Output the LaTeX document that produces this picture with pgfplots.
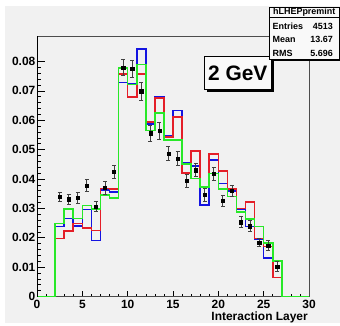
\documentclass[border=0pt]{standalone}
\usepackage{fontspec}
\setmainfont{Liberation Sans}
\usepackage{pgfplots}
\usepackage{pgfplotstable}
\pgfplotsset{compat=1.18}
\definecolor{canvas}{RGB}{241,241,241}
\definecolor{hblue}{RGB}{20,20,225}
\definecolor{hred}{RGB}{228,30,40}
\definecolor{hgreen}{RGB}{40,232,40}

\pgfplotstableread{
x b r g
0 0 0 0
1 0 0 0
2 0.0238 0.0197 0.0249
3 0.0265 0.0222 0.0297
4 0.0240 0.0248 0.0266
5 0.0296 0.0233 0.0310
6 0.0191 0.0225 0.0298
7 0.0362 0.0367 0.0346
8 0.0356 0.0366 0.0335
9 0.0728 0.0758 0.0778
10 0.0723 0.0679 0.0722
11 0.0842 0.0757 0.0789
12 0.0588 0.0593 0.0565
13 0.0680 0.0675 0.0624
14 0.0548 0.0542 0.0533
15 0.0633 0.0610 0.0533
16 0.0456 0.0421 0.0451
17 0.0445 0.0496 0.0402
18 0.0312 0.0373 0.0373
19 0.0464 0.0485 0.0419
20 0.0385 0.0428 0.0366
21 0.0360 0.0366 0.0340
22 0.0298 0.0300 0.0288
23 0.0238 0.0322 0.0264
24 0.0194 0.0198 0.0238
25 0.0131 0.0170 0.0183
26 0.0064 0.0065 0.0120
27 0 0 0
28 0 0 0
29 0 0 0
30 0 0 0
}\hist

\pgfplotstableread{
x y e
2.5 0.0339 0.0015
3.5 0.0331 0.0018
4.5 0.0335 0.0018
5.5 0.0378 0.0021
6.5 0.0306 0.0018
7.5 0.0370 0.0021
8.5 0.0424 0.0023
9.5 0.0780 0.0027
10.5 0.0775 0.0030
11.5 0.0699 0.0030
12.5 0.0556 0.0027
13.5 0.0563 0.0028
14.5 0.0487 0.0023
15.5 0.0470 0.0025
16.5 0.0393 0.0022
17.5 0.0430 0.0022
18.5 0.0346 0.0023
19.5 0.0417 0.0022
20.5 0.0326 0.0019
21.5 0.0360 0.0019
22.5 0.0253 0.0019
23.5 0.0239 0.0019
24.5 0.0183 0.0014
25.5 0.0173 0.0017
26.5 0.0102 0.0016
}\data

\begin{document}
\begin{tikzpicture}[x=1bp,y=1bp]
\path[use as bounding box] (0,0) rectangle (340,326);
\fill[white] (0,0) rectangle (340,326);
\fill[canvas] (5,3) rectangle (340,320);
\begin{axis}[
  at={(37bp,29.5bp)}, anchor=south west,
  scale only axis, width=272bp, height=260bp,
  xmin=0, xmax=30, ymin=0, ymax=0.0885,
  clip=false,
  scaled y ticks=false, scaled x ticks=false,
  axis background/.style={fill=canvas},
  axis line style={draw=black!70, line width=0.6bp},
  xtick={0,5,10,15,20,25,30},
  xticklabels={0,5,10,15,20,25,30},
  ytick={0,0.01,0.02,0.03,0.04,0.05,0.06,0.07,0.08},
  yticklabels={0,0.01,0.02,0.03,0.04,0.05,0.06,0.07,0.08},
  minor x tick num=4, minor y tick num=4,
  tick align=inside, tick pos=left,
  major tick length=8bp, minor tick length=4bp,
  xtick style={black, line width=0.6bp, /pgfplots/major tick length=5bp, /pgfplots/minor tick length=2.5bp},
  ytick style={black, line width=0.6bp},
  minor tick style={black, line width=0.5bp},
  tick label style={font=\fontsize{12}{14}\selectfont\bfseries},
  yticklabel style={inner xsep=1.5bp},
  xlabel={Interaction Layer},
  xlabel style={at={(axis description cs:1,0)}, anchor=base east, yshift=-23.5bp, xshift=-1bp, inner sep=0pt, font=\fontsize{12}{14}\selectfont\bfseries},
]
\addplot[hblue, line width=1.6bp, const plot, mark=none] table[x=x,y=b] {\hist};
\addplot[hred, line width=1.6bp, const plot, mark=none] table[x=x,y=r] {\hist};
\addplot[hgreen, line width=1.6bp, const plot, mark=none] table[x=x,y=g] {\hist};
\addplot[only marks, mark=square*, mark size=1.6bp, black,
  error bars/.cd, y dir=both, y explicit,
  error bar style={black!75, line width=0.8bp},
  error mark options={rotate=90, mark size=2bp, black!75, line width=0.8bp}]
  table[x=x,y=y,y error=e] {\data};
\draw[black, line width=0.9bp] (axis cs:0,0) -- (axis cs:0,0.0885);
\end{axis}
% 2 GeV box
\fill[black] (206.5,234.2) rectangle (274,266.8);
\fill[white!60!canvas] (204,236.7) rectangle (271.5,269.3);
\draw[black, line width=1bp] (204,236.7) rectangle (271.5,269.3);
\node[font=\fontsize{21}{24}\selectfont\bfseries, inner sep=0pt] at (237.75,253) {2 GeV};
% stats box
\fill[black] (270.5,265) rectangle (341,317.5);
\fill[white!60!canvas] (269,266.5) rectangle (339.5,319);
\draw[black, line width=0.8bp] (269,266.5) rectangle (339.5,319);
\draw[black, line width=0.8bp] (269,308.5) -- (339.5,308.5);
\node[font=\fontsize{9}{10}\selectfont\bfseries, inner sep=0pt] at (304.25,313.8) {hLHEPpremint};
\node[font=\fontsize{9}{10}\selectfont\bfseries, inner sep=0pt, anchor=base west] at (272.5,296.7) {Entries};
\node[font=\fontsize{9}{10}\selectfont\bfseries, inner sep=0pt, anchor=base east] at (333,296.7) {4513};
\node[font=\fontsize{9}{10}\selectfont\bfseries, inner sep=0pt, anchor=base west] at (272.5,283.3) {Mean};
\node[font=\fontsize{9}{10}\selectfont\bfseries, inner sep=0pt, anchor=base east] at (333,283.3) {13.67};
\node[font=\fontsize{9}{10}\selectfont\bfseries, inner sep=0pt, anchor=base west] at (272.5,270) {RMS};
\node[font=\fontsize{9}{10}\selectfont\bfseries, inner sep=0pt, anchor=base east] at (333,270) {5.696};
\end{tikzpicture}
\end{document}
